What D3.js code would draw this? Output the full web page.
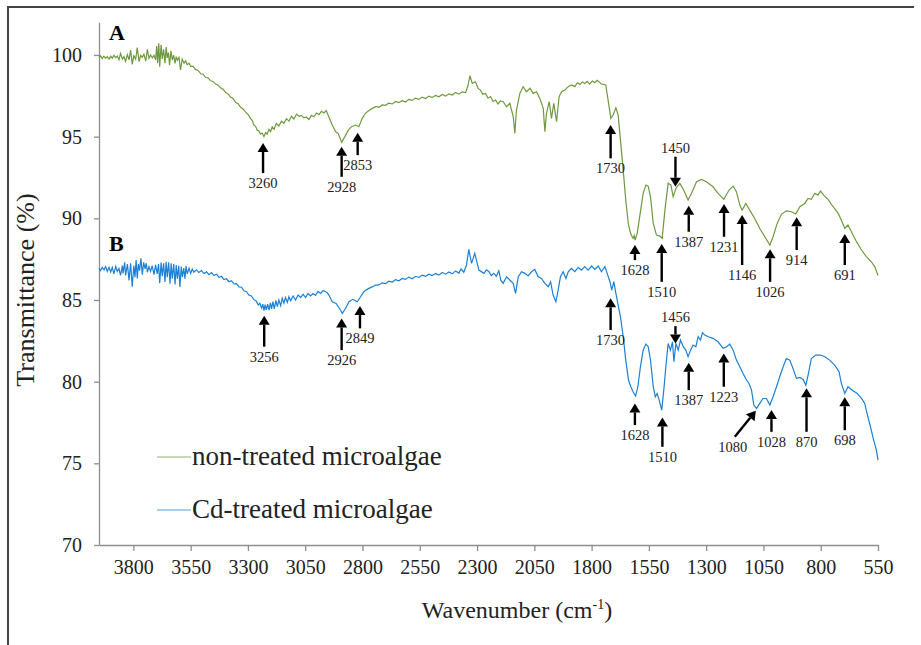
<!DOCTYPE html>
<html>
<head>
<meta charset="utf-8">
<script src="https://cdn.jsdelivr.net/npm/d3@7"></script>
<style>
  body { margin: 0; background: #fff; }
  svg { display: block; font-family: "Liberation Serif", "Times New Roman", serif; }
</style>
</head>
<body>
<svg id="mychart"></svg>
<script>
const width = 921
const height = 645

const xTicks = [3800, 3550, 3300, 3050, 2800, 2550, 2300, 2050, 1800, 1550, 1300, 1050, 800, 550]
const yTicks = [70, 75, 80, 85, 90, 95, 100]

const seriesNames = ["non-treated microalgae", "Cd-treated microalgae"]

// spectrum A (non-treated): [wavenumber, %T]
const specA = [
 [3950,99.83],[3943,99.95],[3936,99.78],[3929,99.92],[3921,99.80],[3914,99.90],[3906,99.75],[3899,99.93],
 [3892,99.79],[3885,99.98],[3877,99.84],[3870,99.93],[3863,99.70],[3856,100.10],[3848,99.75],[3841,99.90],
 [3834,99.60],[3826,100.02],[3819,99.70],[3812,100.30],[3805,99.43],[3798,99.95],[3790,99.75],[3783,100.45],
 [3775,99.59],[3768,99.98],[3761,99.85],[3754,100.05],[3746,99.62],[3739,100.35],[3732,99.80],[3725,100.00],
 [3717,99.82],[3710,99.98],[3703,99.70],[3698,100.55],[3694,99.50],[3689,100.71],[3685,99.28],[3679,100.62],
 [3674,99.75],[3668,100.35],[3662,99.49],[3657,100.48],[3652,99.82],[3647,100.15],[3642,99.38],[3636,100.25],
 [3630,99.70],[3624,99.98],[3618,99.49],[3613,99.90],[3608,99.68],[3601,99.85],[3594,99.08],[3587,99.75],
 [3579,99.50],[3572,99.65],[3565,99.40],[3557,99.50],[3550,99.30],[3539,99.30],[3528,99.10],[3517,99.05],
 [3506,98.85],[3496,98.82],[3485,98.62],[3474,98.60],[3463,98.42],[3452,98.38],[3441,98.22],[3430,98.15],
 [3419,97.98],[3408,97.90],[3397,97.70],[3387,97.62],[3376,97.42],[3365,97.34],[3354,97.10],[3343,97.02],
 [3332,96.80],[3321,96.70],[3310,96.50],[3299,96.35],[3288,96.10],[3281,95.98],[3274,95.72],[3266,95.62],
 [3259,95.38],[3252,95.35],[3245,95.15],[3238,95.22],[3230,95.00],[3223,95.25],[3216,95.15],[3208,95.45],
 [3201,95.30],[3194,95.60],[3186,95.45],[3176,95.80],[3165,95.65],[3154,95.95],[3143,95.82],[3132,96.10],
 [3121,95.95],[3110,96.25],[3099,96.08],[3088,96.38],[3077,96.25],[3066,96.30],[3056,96.15],[3045,96.20],
 [3034,96.05],[3023,96.30],[3012,96.22],[3001,96.45],[2990,96.35],[2979,96.55],[2968,96.45],[2958,96.60],
 [2947,96.22],[2932,95.71],[2917,95.30],[2906,95.20],[2891,94.65],[2877,95.00],[2862,95.40],[2848,95.61],
 [2830,95.71],[2816,95.61],[2801,96.12],[2787,96.43],[2772,96.60],[2757,96.73],[2740,96.85],[2728,96.80],
 [2714,96.94],[2700,96.92],[2685,97.05],[2670,97.00],[2655,97.15],[2641,97.08],[2627,97.20],[2612,97.12],
 [2598,97.28],[2583,97.22],[2569,97.36],[2554,97.28],[2539,97.42],[2525,97.33],[2510,97.48],[2496,97.40],
 [2481,97.52],[2467,97.44],[2452,97.58],[2437,97.48],[2423,97.62],[2408,97.55],[2394,97.70],[2379,97.60],
 [2365,97.74],[2350,97.70],[2340,98.10],[2331,98.73],[2321,98.26],[2307,98.36],[2295,97.95],[2285,97.85],
 [2275,97.60],[2263,97.65],[2252,97.35],[2241,97.45],[2230,97.15],[2219,97.24],[2209,97.00],[2198,97.18],
 [2186,97.14],[2171,96.83],[2157,97.04],[2142,96.22],[2135,95.20],[2128,96.63],[2113,97.65],[2099,98.06],
 [2084,97.75],[2069,97.96],[2055,97.65],[2040,97.75],[2026,97.34],[2011,96.73],[2004,95.30],[1997,96.43],
 [1985,97.14],[1975,96.12],[1965,97.04],[1953,95.91],[1942,97.45],[1931,97.75],[1917,97.85],[1902,98.06],
 [1888,98.16],[1873,98.06],[1862,98.30],[1851,98.20],[1840,98.35],[1830,98.25],[1819,98.38],[1808,98.22],
 [1797,98.40],[1786,98.30],[1776,98.45],[1767,98.35],[1757,98.22],[1738,98.16],[1728,97.24],[1716,96.12],
 [1706,96.32],[1694,96.77],[1684,96.32],[1674,94.79],[1662,92.95],[1651,91.12],[1640,89.69],[1630,89.08],
 [1624,88.90],[1619,88.77],[1614,88.95],[1610,88.67],[1601,89.08],[1590,90.10],[1575,91.53],[1563,92.04],
 [1553,91.97],[1543,91.32],[1531,89.69],[1517,88.97],[1502,88.91],[1492,88.77],[1480,90.50],[1466,92.14],
 [1454,92.04],[1444,91.32],[1432,91.83],[1415,92.14],[1398,91.73],[1379,91.12],[1364,91.53],[1342,92.24],
 [1320,92.38],[1299,92.24],[1270,91.93],[1248,91.53],[1223,91.16],[1200,91.73],[1182,91.97],[1168,91.63],
 [1153,90.81],[1143,90.50],[1127,90.91],[1110,90.50],[1088,89.99],[1066,89.38],[1044,88.87],[1022,88.36],
 [1008,88.87],[990,89.69],[971,90.26],[950,90.46],[928,90.40],[909,90.26],[891,90.71],[870,90.91],
 [855,91.22],[841,91.16],[826,91.53],[812,91.42],[801,91.67],[787,91.42],[768,91.16],[746,90.71],
 [724,90.30],[710,89.89],[695,89.38],[681,89.59],[666,89.18],[644,88.57],[622,88.06],[601,87.65],
 [579,87.34],[564,87.03],[550,86.50]
]

// spectrum B (Cd-treated)
const specB = [
 [3950,86.93],[3943,86.80],[3936,87.00],[3928,86.85],[3921,87.05],[3914,86.75],[3906,86.99],[3899,86.70],
 [3892,87.00],[3885,86.60],[3877,87.05],[3870,86.75],[3863,86.93],[3856,86.50],[3848,87.10],[3845,86.63],
 [3838,87.30],[3834,86.50],[3826,87.20],[3819,86.20],[3812,87.25],[3805,85.81],[3798,87.10],[3793,86.40],
 [3788,87.45],[3783,86.32],[3778,87.20],[3773,86.80],[3767,87.55],[3761,86.55],[3755,87.30],[3749,86.90],
 [3744,87.25],[3739,86.70],[3732,87.05],[3725,86.75],[3718,87.10],[3710,86.55],[3703,87.15],[3696,86.60],
 [3690,87.20],[3685,86.02],[3679,87.30],[3674,86.45],[3668,87.25],[3662,86.10],[3657,87.34],[3652,86.40],
 [3646,87.30],[3640,86.00],[3635,87.24],[3630,86.30],[3624,87.20],[3618,85.95],[3613,87.14],[3608,86.30],
 [3602,87.10],[3597,85.80],[3591,87.04],[3586,86.40],[3580,86.95],[3575,86.30],[3570,87.08],[3565,86.60],
 [3557,86.95],[3550,86.63],[3543,86.90],[3536,86.70],[3525,86.85],[3514,86.68],[3503,86.80],[3492,86.62],
 [3481,86.72],[3470,86.55],[3459,86.68],[3448,86.50],[3437,86.58],[3426,86.38],[3415,86.45],[3405,86.25],
 [3394,86.30],[3383,86.12],[3372,86.18],[3361,85.98],[3350,86.00],[3339,85.80],[3328,85.78],[3317,85.55],
 [3307,85.52],[3296,85.30],[3285,85.25],[3274,85.02],[3265,84.95],[3255,84.70],[3248,84.80],[3240,84.50],
 [3235,84.75],[3230,84.35],[3225,84.72],[3220,84.40],[3214,84.75],[3208,84.38],[3202,84.82],[3197,84.45],
 [3191,84.90],[3185,84.45],[3178,84.98],[3172,84.60],[3165,85.00],[3157,84.65],[3150,85.10],[3143,84.80],
 [3136,85.15],[3128,84.85],[3121,85.20],[3114,84.95],[3103,85.25],[3092,85.00],[3081,85.30],[3070,85.15],
 [3059,85.35],[3048,85.15],[3038,85.40],[3027,85.25],[3016,85.40],[3005,85.28],[2994,85.52],[2983,85.40],
 [2972,85.58],[2961,85.50],[2954,85.45],[2947,85.30],[2932,84.89],[2915,84.79],[2900,84.48],[2888,84.18],
 [2874,84.48],[2859,84.89],[2842,85.04],[2823,84.89],[2808,85.20],[2794,85.51],[2783,85.62],[2772,85.71],
 [2758,85.80],[2743,85.91],[2728,85.92],[2714,86.05],[2699,86.00],[2685,86.15],[2670,86.10],[2656,86.25],
 [2641,86.18],[2627,86.32],[2612,86.26],[2598,86.40],[2583,86.30],[2568,86.45],[2554,86.38],[2539,86.52],
 [2525,86.45],[2510,86.58],[2496,86.50],[2481,86.62],[2467,86.52],[2452,86.68],[2437,86.58],[2423,86.72],
 [2408,86.60],[2394,86.78],[2379,86.65],[2370,86.90],[2358,86.70],[2346,87.14],[2336,88.10],[2324,87.24],
 [2310,87.85],[2292,86.83],[2270,86.63],[2259,86.85],[2248,86.73],[2238,86.50],[2227,86.63],[2216,86.45],
 [2205,86.79],[2196,86.20],[2186,86.02],[2171,86.42],[2157,86.22],[2142,86.02],[2132,85.40],[2120,86.42],
 [2106,86.73],[2091,86.63],[2077,86.47],[2062,86.73],[2048,86.87],[2033,86.42],[2019,86.32],[2004,86.02],
 [1989,85.81],[1979,86.12],[1968,85.30],[1956,84.89],[1946,85.61],[1936,86.42],[1924,86.73],[1912,86.32],
 [1902,86.73],[1888,86.93],[1873,86.73],[1859,86.99],[1844,86.83],[1830,87.04],[1815,86.83],[1800,87.08],
 [1786,86.87],[1771,87.08],[1757,86.73],[1742,87.04],[1732,86.63],[1720,86.12],[1712,85.61],[1703,86.12],
 [1694,85.40],[1684,84.69],[1674,83.97],[1662,82.75],[1651,81.32],[1639,80.10],[1629,79.69],[1619,79.38],
 [1608,79.12],[1598,79.69],[1587,80.91],[1575,81.93],[1563,82.30],[1553,82.14],[1543,81.32],[1531,79.69],
 [1522,79.08],[1514,79.28],[1505,78.87],[1494,78.26],[1485,79.48],[1476,80.91],[1466,82.34],[1456,81.93],
 [1447,82.44],[1441,81.22],[1432,82.34],[1422,81.93],[1412,82.55],[1400,82.14],[1389,81.93],[1379,81.53],
 [1368,81.93],[1357,82.24],[1345,82.14],[1335,82.75],[1325,82.55],[1316,83.00],[1306,82.85],[1291,82.75],
 [1270,82.65],[1248,82.44],[1226,82.04],[1211,82.14],[1197,82.30],[1182,81.93],[1168,81.32],[1153,80.91],
 [1139,80.50],[1124,80.10],[1113,79.89],[1102,79.48],[1092,78.57],[1080,78.36],[1066,78.67],[1052,78.97],
 [1037,78.97],[1022,78.57],[1008,79.08],[993,79.69],[979,80.30],[964,80.91],[950,81.42],[935,81.32],
 [921,80.81],[906,80.20],[891,80.26],[877,80.14],[865,79.79],[855,80.40],[841,81.42],[822,81.63],
 [801,81.63],[782,81.53],[761,81.32],[739,81.01],[720,80.61],[710,79.89],[695,79.28],[681,79.69],
 [662,79.48],[641,79.28],[622,78.97],[608,78.67],[598,78.06],[583,77.24],[569,76.42],[557,75.81],
 [550,75.20]
]

// peak annotations: label, arrow tip (wavenumber, %T), arrow tail (wavenumber, %T)
const peakLabels = ["3260","2928","2853","1730","1628","1510","1450","1387","1231","1146","1026","914","691",
                    "3256","2926","2849","1730","1628","1510","1456","1387","1223","1080","1028","870","698"]
const tipWn  = [3234,2891,2821,1717,1611,1494,1434,1376,1222,1143,1021,905,695,
                3229,2891,2811,1717,1611,1491,1434,1376,1223,1083,1015,862,695]
const tipT   = [94.61,94.38,95.24,95.71,88.36,88.42,91.93,90.77,90.87,90.20,88.10,90.06,89.04,
                84.03,83.87,84.63,85.10,78.67,77.81,82.34,81.16,81.73,78.22,78.26,79.59,79.04]
const tailWn = [3234,2891,2821,1717,1611,1494,1434,1376,1222,1143,1021,905,695,
                3229,2891,2811,1717,1611,1491,1434,1376,1223,1175,1015,862,695]
const tailT  = [92.77,92.54,93.87,93.67,87.44,86.11,93.77,89.18,88.87,87.14,86.11,88.06,87.14,
                82.14,81.93,83.26,83.16,77.34,76.01,83.40,79.48,79.69,76.62,76.93,76.93,77.03]

const x = d3.scaleLinear().domain([3950, 550]).range([99, 878])
const y = d3.scaleLinear().domain([70, 102]).range([545, 22.3])

const green = "#6e9a3e"
const blue = "#1c80d4"
const font = "Liberation Serif"

function chart() {
    const svg = d3.select('#mychart').attr('width', width).attr('height', height)
        .attr('viewBox', [0, 0, width, height])

    // outer frame (top and left edges visible)
    svg.append("path")
        .attr("d", `M8,645V7H914`)
        .attr("fill", "none")
        .attr("stroke", "#444")
        .attr("stroke-width", 2)

    const yAxis = svg.append("g")
        .attr("transform", `translate(99,0)`)
        .call(d3.axisLeft(y).tickValues(yTicks).tickFormat(d3.format("d"))
            .tickSize(5).tickPadding(12).tickSizeOuter(0))
        .attr("font-family", font)
    yAxis.select(".domain").attr("stroke", "#8e8e8e").attr("stroke-width", 1.3)
    yAxis.selectAll(".tick line").attr("stroke", "#8e8e8e").attr("stroke-width", 1.3)
    yAxis.selectAll(".tick text").attr("font-size", 20).attr("fill", "#222")

    const xAxis = svg.append("g")
        .attr("transform", `translate(0,545)`)
        .call(d3.axisBottom(x).tickValues(xTicks).tickFormat(d3.format("d"))
            .tickSize(6).tickPadding(9).tickSizeOuter(0))
        .attr("font-family", font)
    xAxis.select(".domain").attr("stroke", "#8e8e8e").attr("stroke-width", 1.3)
    xAxis.selectAll(".tick line").attr("stroke", "#8e8e8e").attr("stroke-width", 1.3)
    xAxis.selectAll(".tick text").attr("font-size", 20).attr("fill", "#222")

    const line = d3.line().x(d => x(d[0])).y(d => y(d[1]))

    svg.append("path").attr("d", line(specA))
        .attr("fill", "none").attr("stroke", green).attr("stroke-width", 1.2)
    svg.append("path").attr("d", line(specB))
        .attr("fill", "none").attr("stroke", blue).attr("stroke-width", 1.2)

    // arrows
    const ann = svg.append("g").attr("font-family", font)
    d3.range(peakLabels.length).forEach(i => {
        const x1 = x(tipWn[i]), y1 = y(tipT[i])
        const x2 = x(tailWn[i]), y2 = y(tailT[i])
        const len = Math.hypot(x2 - x1, y2 - y1)
        const ux = (x2 - x1) / len, uy = (y2 - y1) / len
        const hl = 9, hw = 5.5
        const bx = x1 + ux * hl, by = y1 + uy * hl
        ann.append("line")
            .attr("x1", bx).attr("y1", by).attr("x2", x2).attr("y2", y2)
            .attr("stroke", "#000").attr("stroke-width", 2.4)
        ann.append("path")
            .attr("d", `M${x1},${y1}L${bx - uy * hw},${by + ux * hw}L${bx + uy * hw},${by - ux * hw}Z`)
            .attr("fill", "#000")
        const down = y2 < y1
        ann.append("text")
            .attr("x", x2 - (tailWn[i] !== tipWn[i] ? 2 : 0))
            .attr("y", down ? y2 - 4 : y2 + 15)
            .attr("text-anchor", "middle")
            .attr("font-size", 14.5)
            .attr("fill", "#222")
            .text(peakLabels[i])
    })

    // panel letters
    svg.append("text").attr("x", 109).attr("y", 40).attr("font-size", 22)
        .attr("font-family", font).attr("font-weight", "bold").text("A")
    svg.append("text").attr("x", 109).attr("y", 251).attr("font-size", 22)
        .attr("font-family", font).attr("font-weight", "bold").text("B")

    // legend
    const leg = svg.append("g").attr("font-family", font)
    seriesNames.forEach((name, i) => {
        const ly = 457 + i * 53
        leg.append("line").attr("x1", 157).attr("x2", 191).attr("y1", ly).attr("y2", ly)
            .attr("stroke", i === 0 ? green : blue).attr("stroke-width", 1).attr("opacity", 0.75)
        leg.append("text").attr("x", 192).attr("y", ly + 8).attr("font-size", 27)
            .attr("fill", "#222").text(name)
    })

    // axis titles
    svg.append("text")
        .attr("transform", "translate(34,290) rotate(-90)")
        .attr("text-anchor", "middle")
        .attr("font-family", font)
        .attr("font-size", 26)
        .attr("fill", "#222")
        .text("Transmittance (%)")

    const xt = svg.append("text")
        .attr("x", 517).attr("y", 618)
        .attr("text-anchor", "middle")
        .attr("font-family", font)
        .attr("font-size", 24)
        .attr("fill", "#222")
    xt.append("tspan").text("Wavenumber (cm")
    xt.append("tspan").attr("font-size", 14).attr("dy", -9).text("-1")
    xt.append("tspan").attr("dy", 9).text(")")

    return svg.node()
}

chart()
</script>
</body>
</html>
